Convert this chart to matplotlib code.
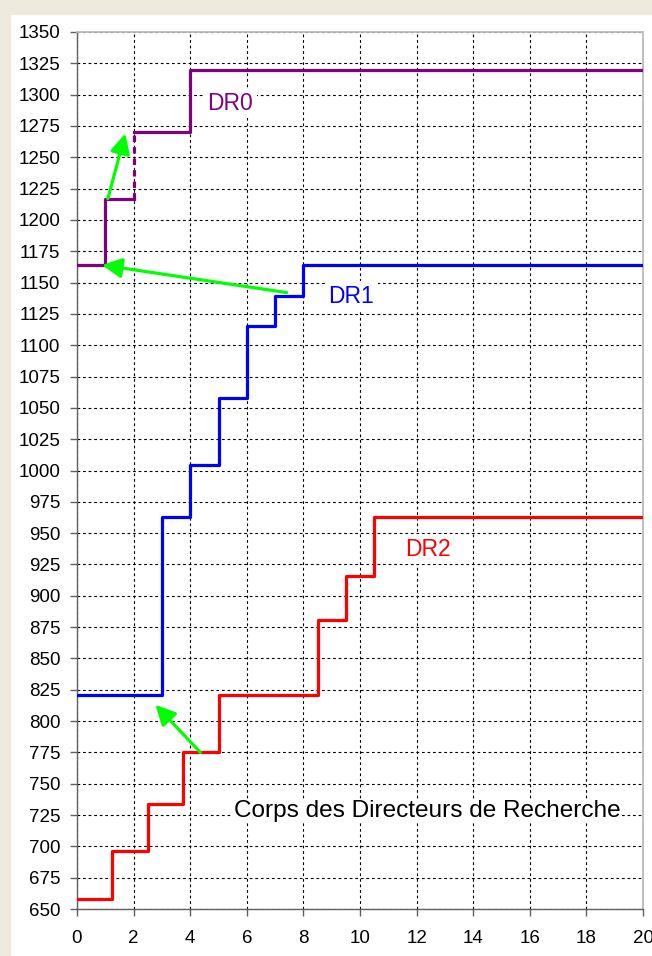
import numpy as np
import matplotlib.pyplot as plt
from matplotlib.patches import Rectangle

plt.rcParams['font.family'] = ['Liberation Sans', 'DejaVu Sans']

# salary index steps (x = years, y = indice)
dr2_x = [0, 1.25, 2.5, 3.75, 5, 8.5, 9.5, 10.5, 20]
dr2_y = [658, 696, 734, 775, 821, 881, 916, 963, 963]

dr1_x = [0, 3, 4, 5, 6, 7, 8, 20]
dr1_y = [821, 963, 1004, 1058, 1115, 1139, 1164, 1164]

dr0_x = [0, 1, 2, 4, 20]
dr0_y = [1164, 1217, 1270, 1320, 1320]

# green arrows: (start, tip)
arrows = [((4.36, 775), (2.77, 813)),
          ((7.41, 1142), (0.88, 1164)),
          ((1.09, 1217), (1.71, 1269))]

labels = [("DR0", 5.42, 1293, '#800080'),
          ("DR1", 9.69, 1139, '#0000FF'),
          ("DR2", 12.39, 937, '#FF0000'),
          ("Corps des Directeurs de Recherche", 12.37, 728, 'black')]

xticks = np.arange(0, 21, 2)
yticks = np.arange(650, 1351, 25)

fig = plt.figure(figsize=(6.52, 9.56), dpi=100)
fig.patches.append(Rectangle((0, 1 - 14 / 956), 1, 14 / 956, transform=fig.transFigure,
                             color='#EEEBDE', zorder=0))
fig.patches.append(Rectangle((0, 0), 10 / 652, 1, transform=fig.transFigure,
                             color='#EEEBDE', zorder=0))
ax = fig.add_axes([77 / 652, 1 - 909 / 956, (643 - 77) / 652, (909 - 32) / 956])

lw = 2.3
ax.step(dr2_x, dr2_y, where='post', color='#FF0000', lw=lw, zorder=3)
ax.step(dr1_x, dr1_y, where='post', color='#0000FF', lw=lw, zorder=3)
ax.step(dr0_x[:3], dr0_y[:2] + [dr0_y[1]], where='post', color='#800080', lw=lw, zorder=3)
ax.step(dr0_x[2:], dr0_y[2:], where='post', color='#800080', lw=lw, zorder=3)
ax.plot([dr0_x[2], dr0_x[2]], [dr0_y[1], dr0_y[2]], color='#800080', lw=lw,
        linestyle=(0, (2, 1.6)), zorder=3)

for (x0, y0), (x1, y1) in arrows:
    ax.annotate('', xy=(x1, y1), xytext=(x0, y0),
                arrowprops=dict(arrowstyle='-|>,head_length=0.6,head_width=0.3',
                                color='#00FF00', lw=2.3, mutation_scale=20,
                                shrinkA=0, shrinkB=0), zorder=4)

for txt, x, y, c in labels:
    size = 16.5 if txt.startswith('DR') else 17.6
    pad = 0.25 if txt.startswith('DR') else 0.05
    ax.text(x, y, txt, color=c, fontsize=size, ha='center', va='center', zorder=2,
            bbox=dict(facecolor='white', edgecolor='none', pad=pad * 10))

ax.set_xlim(0, 20)
ax.set_ylim(650, 1350)
ax.set_xticks(xticks)
ax.set_yticks(yticks)
ax.grid(True, color='black', lw=0.8, linestyle=(0, (2.5, 2.5)), zorder=1)
ax.set_axisbelow(True)

ax.tick_params(axis='both', direction='out', length=5, width=1, color='#606060',
               labelsize=13.5)
ax.tick_params(axis='x', pad=10)
ax.tick_params(axis='y', pad=7)
for s in ['left', 'bottom']:
    ax.spines[s].set_color('#606060')
    ax.spines[s].set_linewidth(1)
for s in ['top', 'right']:
    ax.spines[s].set_color('#BBBBBB')
    ax.spines[s].set_linewidth(1.3)

fig.savefig('out.png', dpi=100)
